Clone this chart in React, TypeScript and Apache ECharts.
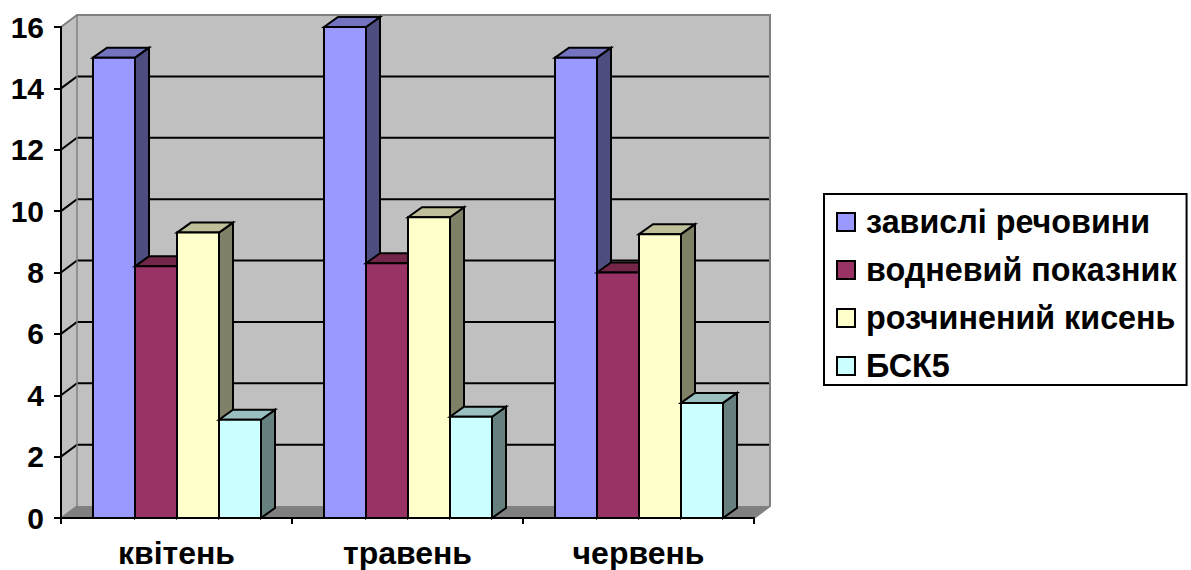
import React, { useEffect, useRef } from "react";
import * as echarts from "echarts";

const categories = ["квітень", "травень", "червень"];
const seriesNames = ["завислі речовини", "водневий показник", "розчинений кисень", "БСК5"];
const suspended = [15, 16, 15];
const ph = [8.2, 8.3, 8];
const oxygen = [9.3, 9.8, 9.25];
const bod = [3.2, 3.3, 3.75];
const seriesValues = [suspended, ph, oxygen, bod];
const frontColors = ["#9999FF", "#993366", "#FFFFCC", "#CCFFFF"];
const sideColors = ["#4D4D80", "#4D1A33", "#808066", "#668080"];
const topColors = ["#7373BF", "#732649", "#BFBF99", "#99BFBF"];
const ticks = [2, 4, 6, 8, 10, 12, 14];

const FONT = '"Liberation Sans", Arial, sans-serif';
const WALL_DX = 16;
const WALL_DY = -12;
const BAR_DX = 14;
const BAR_DY = -10;
const BAR_W = 42 / 231;
const BAR_START = 32 / 231;

function renderWalls(_p: any, api: any) {
  const band = api.size([1, 0])[0];
  const c0 = api.coord([0, 0]);
  const c16 = api.coord([0, 16]);
  const x0 = c0[0] - band / 2;
  const x1 = x0 + band * 3;
  const y0 = c0[1];
  const y1 = c16[1];
  const grey = { fill: "#C0C0C0", stroke: "none" };
  const children: any[] = [
    { type: "polygon", shape: { points: [[x0 + WALL_DX, y1 + WALL_DY], [x1 + WALL_DX, y1 + WALL_DY], [x1 + WALL_DX, y0 + WALL_DY], [x0 + WALL_DX, y0 + WALL_DY]] }, style: grey },
    { type: "polygon", shape: { points: [[x0, y1], [x0 + WALL_DX, y1 + WALL_DY], [x0 + WALL_DX, y0 + WALL_DY], [x0, y0]] }, style: grey },
    { type: "polygon", shape: { points: [[x0, y0], [x0 + WALL_DX, y0 + WALL_DY], [x1 + WALL_DX, y0 + WALL_DY], [x1, y0]] }, style: { fill: "#808080", stroke: "none" } },
  ];
  ticks.forEach((t) => {
    const y = api.coord([0, t])[1];
    children.push({
      type: "polyline",
      shape: { points: [[x0, y], [x0 + WALL_DX, y + WALL_DY], [x1 + WALL_DX, y + WALL_DY]] },
      style: { fill: "none", stroke: "#000", lineWidth: 2 },
    });
  });
  children.push({
    type: "polyline",
    shape: { points: [[x0, y1], [x0 + WALL_DX, y1 + WALL_DY], [x1 + WALL_DX, y1 + WALL_DY], [x1 + WALL_DX, y0 + WALL_DY], [x1, y0]] },
    style: { fill: "none", stroke: "#808080", lineWidth: 2 },
  });
  children.push({
    type: "polyline",
    shape: { points: [[x0, y0], [x0 + WALL_DX, y0 + WALL_DY], [x0 + WALL_DX, y1 + WALL_DY]] },
    style: { fill: "none", stroke: "#808080", lineWidth: 1.5 },
  });
  return { type: "group", children };
}

function makeRenderBar(s: number) {
  return (_p: any, api: any) => {
    const band = api.size([1, 0])[0];
    const top = api.coord([api.value(0), api.value(1)]);
    const bottom = api.coord([api.value(0), 0]);
    const x0 = top[0] - band / 2 + band * (BAR_START + s * BAR_W);
    const x1 = x0 + band * BAR_W;
    const yT = top[1];
    const yB = bottom[1];
    const line = { stroke: "#000", lineWidth: 2, lineJoin: "miter" };
    return {
      type: "group",
      children: [
        { type: "polygon", shape: { points: [[x1, yT], [x1 + BAR_DX, yT + BAR_DY], [x1 + BAR_DX, yB + BAR_DY], [x1, yB]] }, style: { fill: sideColors[s], ...line } },
        { type: "polygon", shape: { points: [[x0, yT], [x0 + BAR_DX, yT + BAR_DY], [x1 + BAR_DX, yT + BAR_DY], [x1, yT]] }, style: { fill: topColors[s], ...line } },
        { type: "polygon", shape: { points: [[x0, yT], [x1, yT], [x1, yB], [x0, yB]] }, style: { fill: frontColors[s], ...line } },
      ],
    };
  };
}

export default function App() {
  const ref = useRef<HTMLDivElement>(null);
  useEffect(() => {
    const chart = echarts.init(ref.current!, undefined, { renderer: "svg" });
    chart.setOption({
      animation: false,
      backgroundColor: "#fff",
      textStyle: { fontFamily: FONT },
      grid: { left: 61, right: 437, top: 27, bottom: 52, containLabel: false, outerBoundsMode: "none" },
      xAxis: {
        type: "category",
        data: categories,
        z: 5,
        axisLine: { lineStyle: { color: "#000", width: 2 } },
        axisTick: { show: true, length: 6, lineStyle: { color: "#000", width: 2 } },
        axisLabel: { color: "#000", fontWeight: "bold", fontSize: 32, lineHeight: 24, fontFamily: FONT, margin: 23 },
      },
      yAxis: {
        type: "value",
        min: 0,
        max: 16,
        interval: 2,
        z: 5,
        splitLine: { show: false },
        axisLine: { show: true, lineStyle: { color: "#000", width: 2 } },
        axisTick: { show: true, length: 7, lineStyle: { color: "#000", width: 2 } },
        axisLabel: { color: "#000", fontWeight: "bold", fontSize: 30, fontFamily: FONT, margin: 17 },
      },
      legend: {
        orient: "vertical",
        left: 824,
        top: 194,
        data: seriesNames,
        selectedMode: false,
        icon: "rect",
        itemWidth: 18,
        itemHeight: 18,
        itemGap: 16,
        padding: [12, 10, 3, 12],
        borderColor: "#000",
        borderWidth: 2,
        backgroundColor: "#fff",
        itemStyle: { borderColor: "#000", borderWidth: 2 },
        textStyle: { color: "#000", fontWeight: "bold", fontSize: 32.3, lineHeight: 32, fontFamily: FONT, padding: [0, 0, 0, 6] },
      },
      series: [
        { type: "custom", name: "wall", silent: true, z: 1, renderItem: renderWalls, data: [[0, 0]], encode: { x: 0, y: 1 } },
        ...seriesNames.map((name, s) => ({
          type: "custom",
          name,
          z: 2,
          itemStyle: { color: frontColors[s] },
          renderItem: makeRenderBar(s),
          encode: { x: 0, y: 1 },
          data: seriesValues[s].map((v, i) => [i, v]),
        })),
      ],
    });
    return () => chart.dispose();
  }, []);
  return <div ref={ref} style={{ position: "absolute", left: 0, top: 0, width: 1191, height: 570 }} />;
}
